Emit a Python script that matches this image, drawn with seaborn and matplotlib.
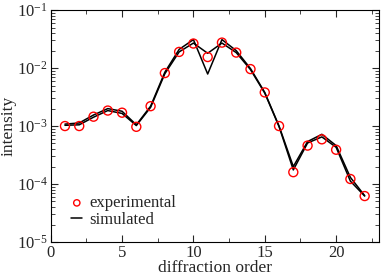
import numpy as np
import pandas as pd
import matplotlib
matplotlib.use("Agg")
import matplotlib.pyplot as plt
import seaborn as sns
from matplotlib.ticker import LogLocator, MultipleLocator, NullFormatter

# data
order = list(range(1, 23))
experimental = [1.0e-3, 1.0e-3, 1.45e-3, 1.85e-3, 1.7e-3, 9.7e-4, 2.2e-3, 8.2e-3,
                1.9e-2, 2.65e-2, 1.55e-2, 2.75e-2, 1.85e-2, 9.6e-3, 3.8e-3, 1.0e-3,
                1.6e-4, 4.6e-4, 5.9e-4, 3.9e-4, 1.22e-4, 6.2e-5]
simulated_a = [1.08e-3, 1.13e-3, 1.55e-3, 2.0e-3, 1.8e-3, 1.05e-3, 2.2e-3, 8.5e-3,
               2.1e-2, 3.1e-2, 7.9e-3, 3.1e-2, 2.0e-2, 9.8e-3, 3.8e-3, 1.0e-3,
               2.0e-4, 5.4e-4, 7.2e-4, 4.6e-4, 1.3e-4, 6.3e-5]
simulated_b = [1.03e-3, 1.05e-3, 1.42e-3, 1.85e-3, 1.65e-3, 1.02e-3, 2.1e-3, 8.0e-3,
               1.9e-2, 2.7e-2, 1.8e-2, 2.7e-2, 1.85e-2, 9.4e-3, 3.7e-3, 0.98e-3,
               1.75e-4, 5.1e-4, 6.5e-4, 4.3e-4, 1.12e-4, 6.2e-5]

sns.set_theme(style="ticks")
plt.rcParams["font.family"] = ["Liberation Serif", "DejaVu Serif"]
plt.rcParams["mathtext.fontset"] = "custom"
plt.rcParams["mathtext.rm"] = "Liberation Serif"
plt.rcParams["mathtext.it"] = "Liberation Serif:italic"

fig = plt.figure(figsize=(3.82, 2.73), dpi=100)
ax = fig.add_axes([0.1327, 0.1136, 0.992 - 0.1327, 0.963 - 0.1136])

df = pd.DataFrame({"order": order, "exp": experimental,
                   "sa": simulated_a, "sb": simulated_b})

sns.lineplot(data=df, x="order", y="sa", ax=ax, color="black", lw=1.1, label="simulated")
sns.lineplot(data=df, x="order", y="sb", ax=ax, color="black", lw=1.1, label="_nolegend_")
sns.scatterplot(data=df, x="order", y="exp", ax=ax, marker="o", s=42,
                facecolor="none", edgecolor="red", linewidth=1.0,
                label="experimental", zorder=3)

ax.set_yscale("log")
ax.set_xlim(0, 23)
ax.set_ylim(1e-5, 1e-1)
ax.xaxis.set_major_locator(MultipleLocator(5))
ax.xaxis.set_minor_locator(MultipleLocator(2.5))
ax.yaxis.set_major_locator(LogLocator(base=10, numticks=10))
ax.yaxis.set_minor_locator(LogLocator(base=10, subs=np.arange(2, 10), numticks=10))
ax.yaxis.set_minor_formatter(NullFormatter())
ax.tick_params(which="both", direction="in", top=True, right=True, labelsize=12, pad=2)
ax.tick_params(which="major", length=5, width=0.8)
ax.tick_params(which="minor", length=3, width=0.6)
for s in ax.spines.values():
    s.set_linewidth(0.8)
    s.set_color("black")

ax.set_xlabel("diffraction order", fontsize=12.5)
ax.set_ylabel("intensity", fontsize=12.5)
ax.xaxis.set_label_coords(0.5, -0.078)
ax.yaxis.set_label_coords(-0.104, 0.5)

h, l = ax.get_legend_handles_labels()
order_idx = [l.index("experimental"), l.index("simulated")]
ax.legend([h[i] for i in order_idx], [l[i] for i in order_idx], loc="lower left",
          bbox_to_anchor=(0.063, 0.06), frameon=False, fontsize=12, markerscale=0.7,
          handlelength=0.65, handletextpad=0.45, labelspacing=0.05,
          borderaxespad=0.0, borderpad=0.0)

fig.savefig("out.png", dpi=100)
